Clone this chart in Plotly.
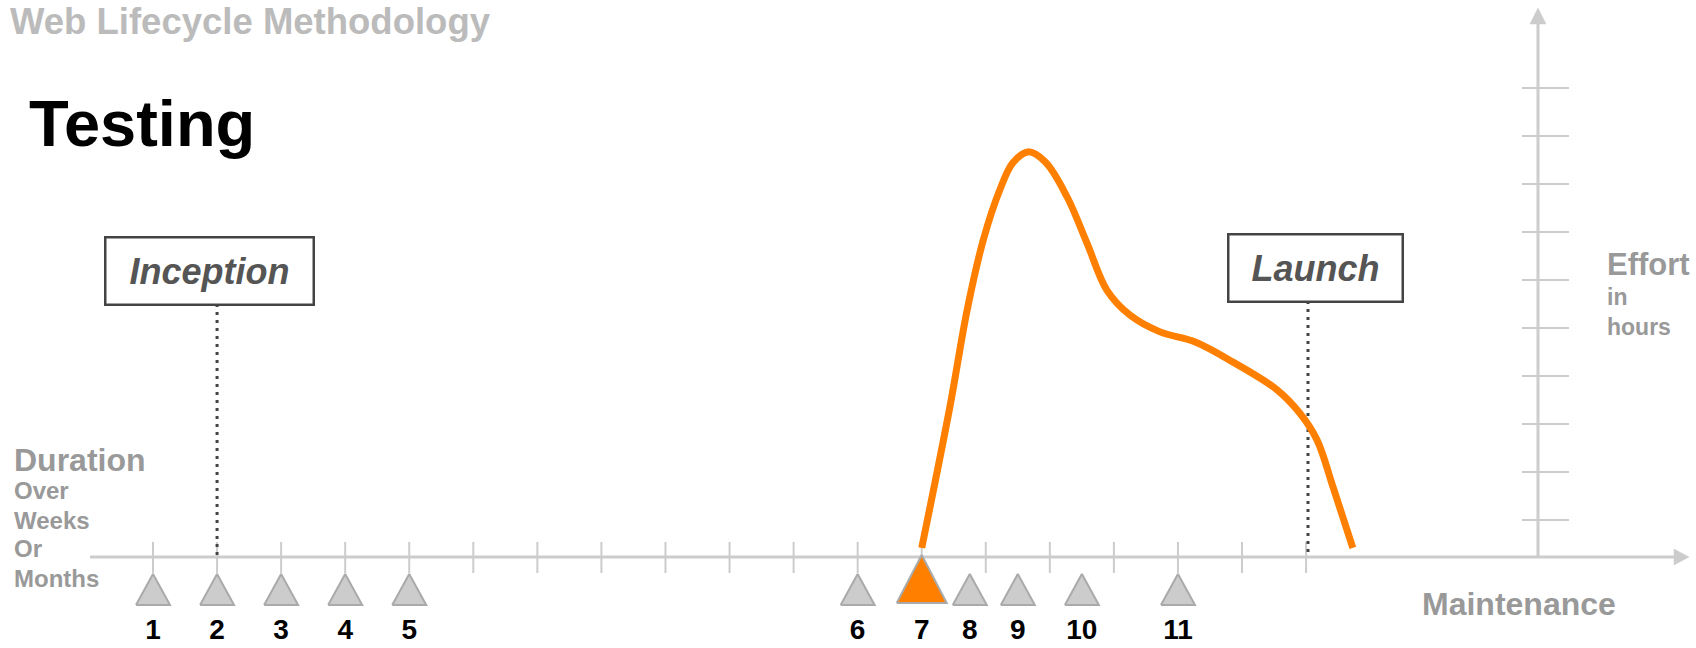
import plotly.graph_objects as go

# ---------------- data ----------------
milestone_labels = ["1", "2", "3", "4", "5", "6", "7", "8", "9", "10", "11"]
milestone_x = [0, 1, 2, 3, 4, 11, 12, 12.75, 13.5, 14.5, 16]
active_milestone = "7"

duration_ticks = list(range(0, 19))          # tick marks on the duration axis
effort_ticks = [0.77, 1.77, 2.77, 3.77, 4.77, 5.77, 6.77, 7.77, 8.77, 9.77]

effort_x = [12.00, 12.44, 12.71, 12.96, 13.22, 13.42, 13.66, 13.93, 14.27, 14.58,
            14.89, 15.25, 15.72, 16.27, 16.86, 17.53, 17.90, 18.17,
            18.42, 18.73]
effort_y = [0.19, 3.13, 5.15, 6.60, 7.65, 8.21, 8.44, 8.23, 7.50, 6.54,
            5.56, 5.04, 4.69, 4.48, 4.06, 3.50, 3.00, 2.44,
            1.46, 0.19]

phase_names = ["Inception", "Launch"]
phase_x = [1.0, 18.03]

# ---------------- geometry helpers (layout) ----------------
W, H = 1696, 648
X0PX, XSTEP = 153.0, 64.06
Y0PX, YSTEP = 557.0, 48.0


def px2x(px):
    return (px - X0PX) / XSTEP


def px2y(py):
    return (Y0PX - py) / YSTEP


AXIS_COLOR = "#cccccc"
FONT = "Liberation Sans, Arial, Helvetica, sans-serif"

fig = go.Figure()

# horizontal (duration) axis line
x_axis_start = px2x(90)
x_axis_end = px2x(1674)
x_arrow_tip = px2x(1689)
fig.add_trace(go.Scatter(x=[x_axis_start, x_axis_end], y=[0, 0], mode="lines",
                         line=dict(color=AXIS_COLOR, width=3), hoverinfo="skip"))
ah = 8 / YSTEP
fig.add_trace(go.Scatter(x=[x_axis_end, x_arrow_tip, x_axis_end, x_axis_end],
                         y=[ah, 0, -ah, ah], mode="lines", fill="toself",
                         fillcolor=AXIS_COLOR, line=dict(color=AXIS_COLOR, width=0.5),
                         hoverinfo="skip"))

# duration ticks
tx, ty = [], []
for t in duration_ticks:
    tx += [t, t, None]
    ty += [px2y(542), px2y(573), None]
fig.add_trace(go.Scatter(x=tx, y=ty, mode="lines",
                         line=dict(color=AXIS_COLOR, width=2), hoverinfo="skip"))

# vertical (effort) axis
vx = px2x(1538)
v_top = px2y(24)
v_tip = px2y(8)
fig.add_trace(go.Scatter(x=[vx, vx], y=[0, v_top], mode="lines",
                         line=dict(color=AXIS_COLOR, width=3), hoverinfo="skip"))
aw = 8 / XSTEP
fig.add_trace(go.Scatter(x=[vx - aw, vx, vx + aw, vx - aw],
                         y=[v_top, v_tip, v_top, v_top], mode="lines", fill="toself",
                         fillcolor=AXIS_COLOR, line=dict(color=AXIS_COLOR, width=0.5),
                         hoverinfo="skip"))
ex, ey = [], []
for t in effort_ticks:
    ex += [px2x(1522), px2x(1569), None]
    ey += [t, t, None]
fig.add_trace(go.Scatter(x=ex, y=ey, mode="lines",
                         line=dict(color=AXIS_COLOR, width=2), hoverinfo="skip"))

# phase dotted lines
phase_box_bottom = [px2y(304), px2y(301)]
for px_, yb in zip(phase_x, phase_box_bottom):
    fig.add_trace(go.Scatter(x=[px_, px_], y=[yb, 0], mode="lines",
                             line=dict(color="#444444", width=3, dash="3px,5px"),
                             hoverinfo="skip"))

# milestone triangles
gx, gy = [], []
hw = 17 / XSTEP
top = px2y(574)
bot = px2y(605)
for lab, x in zip(milestone_labels, milestone_x):
    if lab == active_milestone:
        continue
    gx += [x - hw, x + hw, x, x - hw, None]
    gy += [bot, bot, top, bot, None]
fig.add_trace(go.Scatter(x=gx, y=gy, mode="lines", fill="toself",
                         fillcolor="#cccccc", line=dict(color="#aaaaaa", width=2),
                         hoverinfo="skip"))

ai = milestone_labels.index(active_milestone)
axm = milestone_x[ai]
ahw = 25 / XSTEP
atop = px2y(555)
abot = px2y(603)
fig.add_trace(go.Scatter(x=[axm - ahw, axm + ahw, axm, axm - ahw],
                         y=[abot, abot, atop, abot], mode="lines", fill="toself",
                         fillcolor="#ff7f00", line=dict(color="#aaaaaa", width=2),
                         hoverinfo="skip"))

# effort curve
fig.add_trace(go.Scatter(x=effort_x, y=effort_y, mode="lines",
                         line=dict(color="#ff7f00", width=7, shape="spline", smoothing=1.0),
                         hoverinfo="skip"))

# milestone number labels
fig.add_trace(go.Scatter(x=milestone_x, y=[px2y(632)] * len(milestone_x), mode="text",
                         text=[f"<b>{l}</b>" for l in milestone_labels],
                         textposition="middle center",
                         textfont=dict(family=FONT, size=28, color="#000000"),
                         hoverinfo="skip"))

annotations = []


def txt(text, xpx, ypx, size, color, xanchor="left"):
    annotations.append(dict(text=text, x=px2x(xpx), y=px2y(ypx), xref="x", yref="y",
                            xanchor=xanchor, yanchor="middle", showarrow=False,
                            font=dict(family=FONT, size=size, color=color)))


txt("<b>Web Lifecycle Methodology</b>", 8, 21, 36.5, "#bbbbbb")
txt("<b>Testing</b>", 27, 123, 65, "#000000")
txt("<b>Duration</b>", 12, 460, 32, "#999999")
txt("<b>Over</b>", 12, 490, 24, "#999999")
txt("<b>Weeks</b>", 12, 520, 24, "#999999")
txt("<b>Or</b>", 12, 548, 24, "#999999")
txt("<b>Months</b>", 12, 578, 24, "#999999")
txt("<b>Effort</b>", 1605, 264, 31, "#999999")
txt("<b>in</b>", 1605, 297, 23, "#999999")
txt("<b>hours</b>", 1605, 327, 23, "#999999")
txt("<b>Maintenance</b>", 1420, 604, 32, "#999999")

# phase boxes
box_geom = [(209, 270.5, 206, 65), (1315, 267.5, 172, 65)]
for name, (cx, cy, bw, bh) in zip(phase_names, box_geom):
    annotations.append(dict(text=f"<b><i>{name}</i></b>", x=px2x(cx), y=px2y(cy),
                            xref="x", yref="y", xanchor="center", yanchor="middle",
                            showarrow=False, width=bw, height=bh, align="center",
                            valign="middle", bordercolor="#444444", borderwidth=2.5,
                            borderpad=0, bgcolor="#ffffff",
                            font=dict(family=FONT, size=36, color="#555555")))

fig.update_layout(
    width=W, height=H, autosize=False,
    margin=dict(l=0, r=0, t=0, b=0, pad=0),
    paper_bgcolor="#ffffff", plot_bgcolor="#ffffff",
    showlegend=False, hovermode=False,
    xaxis=dict(range=[px2x(0), px2x(W)], visible=False, fixedrange=True),
    yaxis=dict(range=[px2y(H), px2y(0)], visible=False, fixedrange=True),
    annotations=annotations,
)

fig.write_html("out.html", config={"displayModeBar": False},
               post_script="document.body.style.margin='0';document.body.style.overflow='hidden';")
